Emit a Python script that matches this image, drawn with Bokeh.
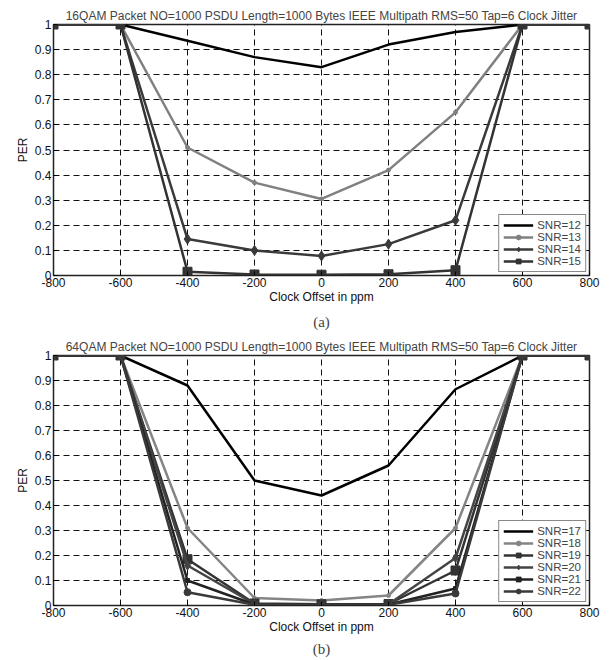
from bokeh.plotting import figure
from bokeh.models import Title, Legend, LegendItem, FixedTicker, Range1d, CustomJSTickFormatter
from bokeh.layouts import column
from bokeh.embed import file_html
from bokeh.resources import INLINE

# ---------------- data ----------------
clock_offset = [-800, -600, -400, -200, 0, 200, 400, 600, 800]

a_title = "16QAM Packet NO=1000 PSDU Length=1000 Bytes IEEE Multipath RMS=50 Tap=6 Clock Jitter"
a_labels = ["SNR=12", "SNR=13", "SNR=14", "SNR=15"]
a_snr12 = [1, 1, 0.935, 0.87, 0.83, 0.92, 0.97, 1, 1]
a_snr13 = [1, 1, 0.51, 0.37, 0.305, 0.42, 0.65, 1, 1]
a_snr14 = [1, 1, 0.145, 0.10, 0.078, 0.125, 0.22, 1, 1]
a_snr15 = [1, 1, 0.015, 0.004, 0.003, 0.005, 0.021, 1, 1]

b_title = "64QAM Packet NO=1000 PSDU Length=1000 Bytes IEEE Multipath RMS=50 Tap=6 Clock Jitter"
b_labels = ["SNR=17", "SNR=18", "SNR=19", "SNR=20", "SNR=21", "SNR=22"]
b_snr17 = [1, 1, 0.88, 0.50, 0.44, 0.56, 0.865, 1, 1]
b_snr18 = [1, 1, 0.31, 0.03, 0.02, 0.04, 0.31, 1, 1]
b_snr19 = [1, 1, 0.185, 0.008, 0.005, 0.006, 0.14, 1, 1]
b_snr20 = [1, 1, 0.16, 0.006, 0.004, 0.005, 0.19, 1, 1]
b_snr21 = [1, 1, 0.10, 0.004, 0.003, 0.004, 0.068, 1, 1]
b_snr22 = [1, 1, 0.053, 0.003, 0.002, 0.003, 0.048, 1, 1]

x_ticks = [-800, -600, -400, -200, 0, 200, 400, 600, 800]
y_ticks = [0, 0.1, 0.2, 0.3, 0.4, 0.5, 0.6, 0.7, 0.8, 0.9, 1]

FONT = "Liberation Sans"


def make_panel(title, caption, series, height, top, bottom, cap_standoff):
    p = figure(width=611, height=height, output_backend="svg", toolbar_location=None,
               x_range=Range1d(-800, 800), y_range=Range1d(0, 1),
               min_border_left=53, min_border_right=22,
               min_border_top=top, min_border_bottom=bottom)
    p.title.text = title
    p.title.align = "center"
    p.title.text_font = FONT
    p.title.text_font_size = "12px"
    p.title.text_font_style = "normal"
    p.title.standoff = 4

    p.outline_line_color = "#222222"
    p.outline_line_width = 1.5
    p.background_fill_color = "white"
    p.border_fill_color = "white"

    for ax in (p.xaxis, p.yaxis):
        ax.axis_line_color = "#222222"
        ax.major_tick_in = 4
        ax.major_tick_out = 0
        ax.minor_tick_line_color = None
        ax.major_label_text_font = FONT
        ax.major_label_text_font_size = "12px"
        ax.major_label_text_color = "#111111"
        ax.axis_label_text_font = FONT
        ax.axis_label_text_font_size = "12px"
        ax.axis_label_text_font_style = "normal"
        ax.axis_label_text_color = "#111111"
        ax.major_label_standoff = 2
    p.xaxis.axis_label_standoff = 0
    p.yaxis.axis_label_standoff = 2
    p.xaxis.ticker = FixedTicker(ticks=x_ticks)
    p.yaxis.ticker = FixedTicker(ticks=y_ticks)
    p.xaxis.formatter = CustomJSTickFormatter(code="return Math.round(tick).toString();")
    p.yaxis.formatter = CustomJSTickFormatter(code="return (Math.round(tick*10)/10).toString();")
    p.xaxis.axis_label = "Clock Offset in ppm"
    p.yaxis.axis_label = "PER"

    for g in (p.xgrid, p.ygrid):
        g.grid_line_color = "#111111"
        g.grid_line_dash = "6 4"
        g.grid_line_width = 1

    items = []
    for label, ys, color, marker, msize in series:
        r = [p.line(clock_offset, ys, line_color=color, line_width=2.5)]
        if marker is not None:
            r.append(p.scatter(clock_offset, ys, marker=marker, size=msize,
                               fill_color=color, line_color=color))
        items.append(LegendItem(label=label, renderers=r))

    leg = Legend(items=items, location="bottom_right")
    leg.label_text_font = FONT
    leg.label_text_font_size = "11.5px"
    leg.label_height = 12
    leg.glyph_height = 12
    leg.glyph_width = 30
    leg.spacing = 0
    leg.padding = 4
    leg.margin = 3
    leg.label_standoff = 4
    leg.border_line_color = "#111111"
    leg.border_line_width = 1.2
    leg.background_fill_alpha = 1
    p.add_layout(leg)

    cap = Title(text=caption, align="center", text_font="Liberation Serif",
                text_font_size="15px", text_font_style="normal", standoff=cap_standoff)
    p.add_layout(cap, "below")
    return p


pa = make_panel(a_title, "(a)", [
    (a_labels[0], a_snr12, "#000000", None, 0),
    (a_labels[1], a_snr13, "#808080", "circle", 4),
    (a_labels[2], a_snr14, "#3a3a3a", "diamond", 10),
    (a_labels[3], a_snr15, "#333333", "square", 9),
], 335, 24, 60, 11)

pb = make_panel(b_title, "(b)", [
    (b_labels[0], b_snr17, "#000000", None, 0),
    (b_labels[1], b_snr18, "#858585", "circle", 4),
    (b_labels[2], b_snr19, "#333333", "square", 9),
    (b_labels[3], b_snr20, "#444444", "diamond", 9),
    (b_labels[4], b_snr21, "#222222", "square", 4),
    (b_labels[5], b_snr22, "#3a3a3a", "circle", 7),
], 325, 20, 55, 5)

layout = column(pa, pb, spacing=0)
open("out.html", "w").write(file_html(layout, INLINE))
